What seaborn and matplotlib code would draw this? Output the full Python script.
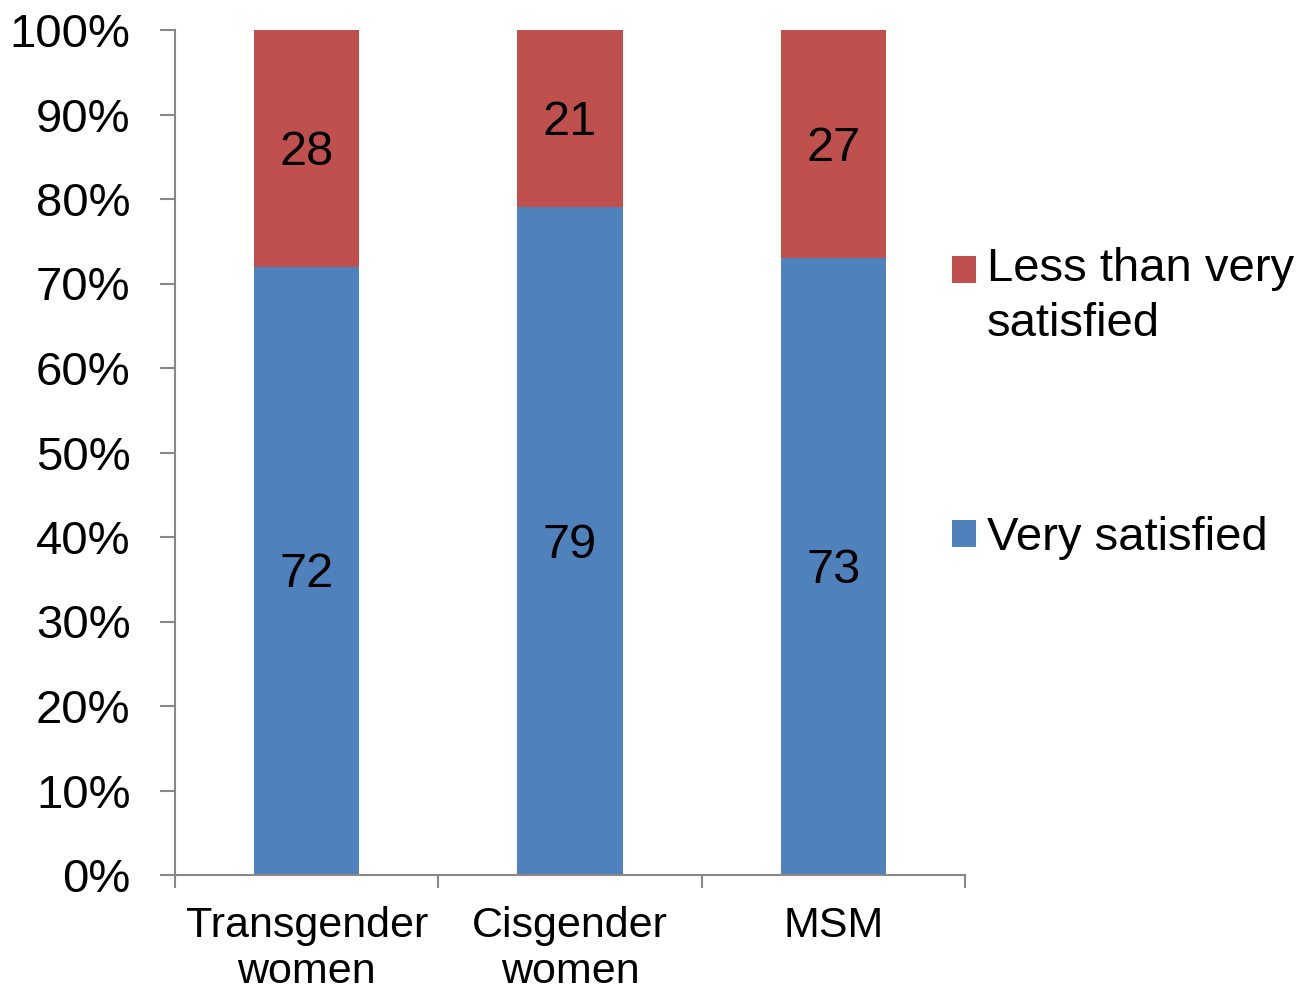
import matplotlib
matplotlib.use("Agg")
import matplotlib.pyplot as plt
import seaborn as sns
import pandas as pd
from matplotlib.patches import Patch

# ---- data ----
categories = ["Transgender\nwomen", "Cisgender\nwomen", "MSM"]
very_satisfied = [72, 79, 73]
less_than_very = [28, 21, 27]
series_names = ["Less than very\nsatisfied", "Very satisfied"]
y_ticks = [0, 10, 20, 30, 40, 50, 60, 70, 80, 90, 100]
y_tick_labels = [f"{v}%" for v in y_ticks]

RED = "#C0504D"
BLUE = "#4F81BD"
SPINE = "#888888"

sns.set_theme(style="white")
plt.rcParams["font.family"] = ["Liberation Sans", "DejaVu Sans"]

fig = plt.figure(figsize=(13.01, 9.91), dpi=100)
ax = fig.add_axes([175 / 1301, 1 - 875 / 991, 790 / 1301, 845 / 991])

df = pd.DataFrame({"cat": categories, "very": very_satisfied, "less": less_than_very})
df["total"] = df["very"] + df["less"]

sns.barplot(data=df, x="cat", y="total", color=RED, saturation=1, width=0.4,
            linewidth=0, errorbar=None, ax=ax)
sns.barplot(data=df, x="cat", y="very", color=BLUE, saturation=1, width=0.4,
            linewidth=0, errorbar=None, ax=ax)

for i, (v, l) in enumerate(zip(very_satisfied, less_than_very)):
    ax.annotate(str(v), (i, v / 2), xytext=(0, -3), textcoords="offset points",
                ha="center", va="center", fontsize=35, color="black")
    ax.annotate(str(l), (i, v + l / 2), xytext=(0, -3), textcoords="offset points",
                ha="center", va="center", fontsize=35, color="black")

ax.set_xlim(-0.5, len(categories) - 0.5)
ax.set_ylim(0, 100)
ax.set_xlabel("")
ax.set_ylabel("")

ax.set_yticks(y_ticks)
ax.set_yticklabels(y_tick_labels)
ax.set_xticks(range(len(categories)))
ax.set_xticklabels(categories, linespacing=1.2)
ax.set_xticks([i - 0.5 for i in range(len(categories) + 1)], minor=True)

for s in ["top", "right"]:
    ax.spines[s].set_visible(False)
for s in ["left", "bottom"]:
    ax.spines[s].set_color(SPINE)
    ax.spines[s].set_linewidth(1.5)

ax.tick_params(axis="y", which="major", left=True, direction="out", length=11,
               width=1.5, color=SPINE, pad=21, labelsize=34, labelcolor="black")
ax.tick_params(axis="x", which="major", bottom=True, length=0, pad=22,
               labelsize=31, labelcolor="black")
ax.tick_params(axis="x", which="minor", bottom=True, direction="out", length=9,
               width=1.5, color=SPINE)

handles = [Patch(facecolor=RED, edgecolor="none"), Patch(facecolor=BLUE, edgecolor="none")]
leg = ax.legend(handles, series_names, loc="upper left",
                bbox_to_anchor=(952 / 1301, 1 - 247 / 991), bbox_transform=fig.transFigure,
                frameon=False, fontsize=34, handlelength=0.5, handleheight=0.5,
                handletextpad=0.24, labelspacing=3.6, borderpad=0, borderaxespad=0,
                labelcolor="black")
for t in leg.get_texts():
    t.set_linespacing(1.32)
h0 = leg.legend_handles[0]
h0.set_y(h0.get_y() + 19.8)

fig.savefig("out.png", dpi=100)
